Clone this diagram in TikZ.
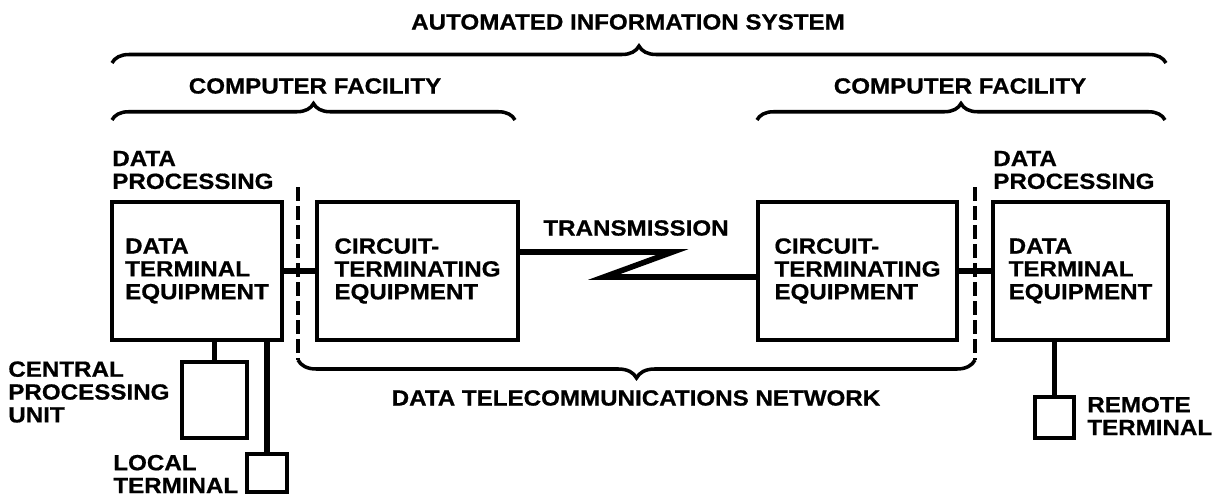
\documentclass[tikz,border=0pt]{standalone}
\usepackage{fontspec}
\setmainfont[FakeStretch=1.1, BoldFeatures={FakeBold=0.7}]{Liberation Sans}
\usepackage{tikz}
\usetikzlibrary{positioning, calc, decorations.pathreplacing}
\definecolor{ink}{RGB}{0,0,0}

\begin{document}
\begin{tikzpicture}[
  font=\bfseries\fontsize{12.5}{13}\selectfont,
  unit/.style={draw=ink, line width=2.2pt, minimum width=#1, minimum height=2.76cm, align=left, inner sep=0pt},
  term/.style={draw=ink, line width=2pt, inner sep=0pt},
  lbl/.style={align=left, inner sep=0pt, anchor=west},
  link/.style={draw=ink, line width=3.2pt},
  fence/.style={draw=ink, line width=2pt, dash pattern=on 0.28cm off 0.1cm},
  curly/.style={draw=ink, line width=2pt, decorate, decoration={brace, amplitude=0.33cm}}
]
  \useasboundingbox (0,0) rectangle (24.24,9.92);
  % Top level and facilities
  \node (ais) at (12.56,9.48) {AUTOMATED INFORMATION SYSTEM};
  \draw[curly, decoration={amplitude=0.34cm}] (2.24,8.66) -- (23.32,8.66);
  \node (cfL) at (6.30,8.20) {COMPUTER FACILITY};
  \draw[curly] (2.24,7.52) -- (10.30,7.52);
  \node (cfR) at (19.20,8.20) {COMPUTER FACILITY};
  \draw[curly] (15.14,7.52) -- (23.30,7.52);
  % Equipment boxes
  \node[unit=3.4cm] (dteL) at (3.94,4.50) {DATA\\TERMINAL\\EQUIPMENT};
  \node[unit=4.02cm] (cteL) at (8.35,4.50) {CIRCUIT-\\TERMINATING\\EQUIPMENT};
  \node[unit=3.98cm] (cteR) at (17.15,4.50) {CIRCUIT-\\TERMINATING\\EQUIPMENT};
  \node[unit=3.5cm] (dteR) at (21.61,4.50) {DATA\\TERMINAL\\EQUIPMENT};
  \node[lbl] (dpL) at (2.24,6.52) {DATA\\PROCESSING};
  \node[lbl] (dpR) at (19.86,6.52) {DATA\\PROCESSING};
  % Terminals
  \node[term, minimum width=1.3cm, minimum height=1.52cm] (cpu) at (4.29,1.92) {};
  \node[term, minimum width=0.8cm, minimum height=0.76cm] (localT) at (5.34,0.46) {};
  \node[term, minimum width=0.78cm, minimum height=0.82cm] (remoteT) at (21.09,1.57) {};
  \node[lbl] (cpuL) at (0.16,2.08) {CENTRAL\\PROCESSING\\UNIT};
  \node[lbl] (localL) at (2.26,0.44) {LOCAL\\TERMINAL};
  \node[lbl] (remoteL) at (21.74,1.60) {REMOTE\\TERMINAL};
  % Network boundary
  \draw[fence] (5.96,6.18) -- (5.96,2.72);
  \draw[fence] (19.50,6.18) -- (19.50,2.72);
  \draw[curly, decoration={mirror, amplitude=0.36cm}] (5.96,2.72) -- (19.50,2.72);
  \node (dtn) at (12.72,1.96) {DATA TELECOMMUNICATIONS NETWORK};
  % Links
  \draw[link] (dteL) -- (cteL);
  \coordinate (zigA) at (13.45,4.88);
  \coordinate (zigB) at (12.08,4.38);
  \draw[link, line join=miter] (cteL.east |- zigA) -- (zigA) -- (zigB) -- (zigB -| cteR.west);
  \node (tx) at (12.72,5.36) {TRANSMISSION};
  \draw[link] (cteR) -- (dteR);
  \draw[link] (cpu.north |- dteL.south) -- (cpu.north);
  \draw[link] (localT.north |- dteL.south) -- (localT.north);
  \draw[link] (remoteT.north |- dteR.south) -- (remoteT.north);
\end{tikzpicture}
\end{document}
